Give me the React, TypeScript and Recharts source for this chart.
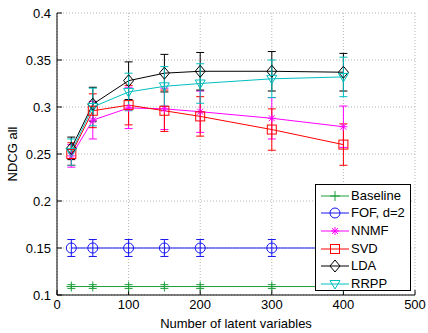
import { LineChart, Line, XAxis, YAxis, CartesianGrid, ErrorBar, Label } from 'recharts';

// number of latent variables
const latent = [20, 50, 100, 150, 200, 300, 400];

const baseline = [0.109, 0.109, 0.109, 0.109, 0.109, 0.109, 0.109];
const baselineErr = [0.002, 0.002, 0.002, 0.002, 0.002, 0.002, 0.002];
const fof = [0.15, 0.15, 0.15, 0.15, 0.15, 0.15, 0.15];
const fofErr = [0.009, 0.009, 0.009, 0.009, 0.009, 0.009, 0.009];
const nnmf = [0.248, 0.286, 0.299, 0.298, 0.295, 0.288, 0.279];
const nnmfErr = [0.012, 0.02, 0.022, 0.022, 0.022, 0.022, 0.022];
const svd = [0.25, 0.296, 0.302, 0.296, 0.29, 0.276, 0.26];
const svdErr = [0.012, 0.018, 0.021, 0.022, 0.021, 0.022, 0.022];
const lda = [0.256, 0.303, 0.328, 0.336, 0.338, 0.338, 0.337];
const ldaErr = [0.012, 0.018, 0.02, 0.02, 0.02, 0.021, 0.02];
const rrpp = [0.252, 0.3, 0.316, 0.322, 0.325, 0.33, 0.332];
const rrppErr = [0.014, 0.02, 0.02, 0.021, 0.021, 0.02, 0.021];

const xTicks = [0, 100, 200, 300, 400, 500];
const yTicks = [0.1, 0.15, 0.2, 0.25, 0.3, 0.35, 0.4];

const series = [
  { key: 'baseline', name: 'Baseline', color: '#1f9e3a', marker: 'plus', vals: baseline, errs: baselineErr },
  { key: 'fof', name: 'FOF, d=2', color: '#1414f0', marker: 'circle', vals: fof, errs: fofErr },
  { key: 'nnmf', name: 'NNMF', color: '#ff00ff', marker: 'star', vals: nnmf, errs: nnmfErr },
  { key: 'svd', name: 'SVD', color: '#ff0000', marker: 'square', vals: svd, errs: svdErr },
  { key: 'lda', name: 'LDA', color: '#000000', marker: 'diamond', vals: lda, errs: ldaErr },
  { key: 'rrpp', name: 'RRPP', color: '#00bfbf', marker: 'triangle', vals: rrpp, errs: rrppErr },
];

const data = latent.map((x, i) => {
  const row: any = { x };
  series.forEach((s) => {
    row[s.key] = s.vals[i];
    row[s.key + 'Err'] = s.errs[i];
  });
  return row;
});

const Marker = ({ type, cx, cy, color }: any) => {
  if (cx == null || cy == null) return null;
  const p = { stroke: color, strokeWidth: 1, fill: 'none' };
  switch (type) {
    case 'plus':
      return <path d={`M${cx - 5},${cy}H${cx + 5}M${cx},${cy - 5}V${cy + 5}`} {...p} />;
    case 'circle':
      return <circle cx={cx} cy={cy} r={5} {...p} />;
    case 'star':
      return (
        <path
          d={`M${cx - 4},${cy}H${cx + 4}M${cx},${cy - 4}V${cy + 4}M${cx - 3},${cy - 3}L${cx + 3},${cy + 3}M${cx - 3},${cy + 3}L${cx + 3},${cy - 3}`}
          {...p}
        />
      );
    case 'square':
      return <rect x={cx - 4.5} y={cy - 4.5} width={9} height={9} {...p} />;
    case 'diamond':
      return <path d={`M${cx},${cy - 6}L${cx + 5},${cy}L${cx},${cy + 6}L${cx - 5},${cy}Z`} {...p} />;
    case 'triangle':
      return <path d={`M${cx - 5},${cy - 3.5}L${cx + 5},${cy - 3.5}L${cx},${cy + 5}Z`} {...p} />;
    default:
      return null;
  }
};

const font = '"Liberation Sans", Arial, sans-serif';

export default function App() {
  return (
    <div style={{ position: 'absolute', left: 0, top: 0, width: 428, height: 333, background: '#fff', fontFamily: font }}>
      <LineChart width={428} height={333} data={data} margin={{ top: 13, right: 13, left: 0, bottom: 0 }}>
        <CartesianGrid stroke="#b5b5b5" strokeDasharray="1 2" horizontalValues={yTicks} verticalValues={xTicks} />
        <XAxis
          dataKey="x"
          type="number"
          domain={[0, 500]}
          ticks={xTicks}
          height={38}
          tickSize={-5}
          tickMargin={10}
          stroke="#000"
          tick={{ fill: '#000', fontSize: 13, fontFamily: font }}
        >
          <Label value="Number of latent variables" position="insideBottom" offset={5} style={{ fill: '#000', fontSize: 13, fontFamily: font }} />
        </XAxis>
        <XAxis
          xAxisId="top"
          orientation="top"
          dataKey="x"
          type="number"
          domain={[0, 500]}
          ticks={xTicks}
          height={0}
          tickSize={-5}
          tickFormatter={() => ''}
          stroke="#000"
        />
        <YAxis
          type="number"
          domain={[0.1, 0.4]}
          ticks={yTicks}
          width={57}
          tickSize={-5}
          tickMargin={11}
          stroke="#000"
          tick={{ fill: '#000', fontSize: 13, fontFamily: font }}
          tickFormatter={(v: number) => String(v)}
        >
          <Label value="NDCG all" angle={-90} position="insideLeft" offset={12} style={{ fill: '#000', fontSize: 13, fontFamily: font, textAnchor: 'middle' }} />
        </YAxis>
        <YAxis
          yAxisId="right"
          orientation="right"
          type="number"
          domain={[0.1, 0.4]}
          ticks={yTicks}
          width={0}
          tickSize={-5}
          tickFormatter={() => ''}
          stroke="#000"
        />
        {series.map((s) => (
          <Line
            key={s.key}
            dataKey={s.key}
            name={s.name}
            type="linear"
            stroke={s.color}
            strokeWidth={1}
            isAnimationActive={false}
            dot={(props: any) => <Marker key={`${s.key}-${props.index}`} type={s.marker} cx={props.cx} cy={props.cy} color={s.color} />}
            activeDot={false}
          >
            <ErrorBar dataKey={s.key + 'Err'} width={4} stroke={s.color} strokeWidth={1} direction="y" />
          </Line>
        ))}
      </LineChart>
      <div
        style={{
          position: 'absolute',
          left: 315,
          top: 184,
          width: 96,
          height: 107,
          border: '1px solid #000',
          background: '#fff',
          boxSizing: 'border-box',
          paddingTop: 2,
        }}
      >
        {series.map((s) => (
          <div key={s.key} style={{ display: 'flex', alignItems: 'center', height: 17.6 }}>
            <svg width={32} height={14} style={{ marginLeft: 3, flex: 'none' }}>
              <line x1={2} y1={7} x2={30} y2={7} stroke={s.color} strokeWidth={1} />
              <Marker type={s.marker} cx={16} cy={7} color={s.color} />
            </svg>
            <span style={{ fontSize: 13, color: '#000', marginLeft: 0, lineHeight: '14px' }}>{s.name}</span>
          </div>
        ))}
      </div>
    </div>
  );
}
